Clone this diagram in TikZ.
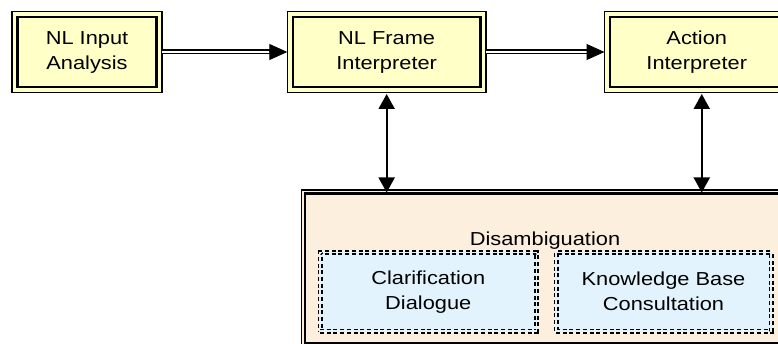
\documentclass[tikz,border=0pt]{standalone}
\usepackage{fontspec}
\setmainfont{Liberation Sans}
\usetikzlibrary{arrows.meta}
\definecolor{yfill}{RGB}{255,255,200}
\definecolor{pfill}{RGB}{253,239,222}
\definecolor{bfill}{RGB}{226,243,253}
\newcommand{\W}[1]{\scalebox{1.16}[1]{#1}}
\begin{document}
\begin{tikzpicture}[x=1pt,y=-1pt,
  txt/.style={font=\fontsize{18.8}{25}\selectfont, align=center, text=black},
  ybox/.style={txt, draw, line width=1.6pt, fill=yfill, inner sep=0pt, outer sep=0pt},
  pbox/.style={draw, line width=1.4pt, fill=pfill, inner sep=0pt, outer sep=0pt},
  dbox/.style={txt, draw, line width=1.6pt, double=bfill, double distance=1.8pt,
    dash pattern=on 4pt off 2.7pt, fill=bfill, inner sep=0pt, outer sep=0pt},
  dline/.style={draw, line width=1.4pt, double=white, double distance=2.2pt},
  htip/.style={-{Triangle[length=18pt,width=16pt]}, line width=1pt},
  varrow/.style={{Triangle[length=15pt,width=16pt]}-{Triangle[length=15pt,width=16pt]}, line width=2pt}]
\path[use as bounding box, clip] (0,0) rectangle (778,344);
\fill[white] (0,0) rectangle (778,344);
% top boxes
\node[ybox, minimum width=150pt, minimum height=81pt] (b1) at (87,52) {\W{NL Input}\\\W{Analysis}};
\node[ybox, minimum width=198.7pt, minimum height=81pt] (b2) at (386.65,52) {\W{NL Frame}\\\W{Interpreter}};
\node[ybox, minimum width=184.5pt, minimum height=81pt] (b3) at (696.75,52) {\W{Action}\\\W{Interpreter}};
\foreach \n in {b1,b2,b3}
  \draw[line width=2.4pt] ([shift={(5.5,5.5)}]\n.north west) rectangle ([shift={(-5.5,-5.5)}]\n.south east);
% bottom box
\node[pbox, minimum width=487.4pt, minimum height=157pt] (bot) at (545,268.5) {};
\draw[line width=2.4pt] ([shift={(3.4,3.4)}]bot.north west) rectangle ([shift={(-3.4,-3.4)}]bot.south east);
\node[dbox, minimum width=216.5pt, minimum height=78.5pt] (dl) at (428.25,291.75) {\W{Clarification}\\\W{Dialogue}};
\node[dbox, minimum width=215pt, minimum height=78.5pt] (dr) at (663.5,291.75) {\W{Knowledge Base}\\\W{Consultation}};
\node[txt, anchor=base] (dis) at (545,246) {\W{Disambiguation}};
% horizontal arrows
\draw[dline, shorten >=16pt] (b1.east) -- (b2.west);
\draw[htip] ([xshift=-18pt]b2.west) -- (b2.west);
\draw[dline, shorten >=16pt] (b2.east) -- (b3.west);
\draw[htip] ([xshift=-18pt]b3.west) -- (b3.west);
% vertical arrows
\draw[varrow, shorten <=1.5pt, shorten >=-2.5pt] (b2.south) -- (b2.south |- bot.north);
\draw[varrow, shorten <=1.5pt, shorten >=-2.5pt] ([xshift=5pt]b3.south) -- ([xshift=5pt]b3.south |- bot.north);
\end{tikzpicture}
\end{document}
